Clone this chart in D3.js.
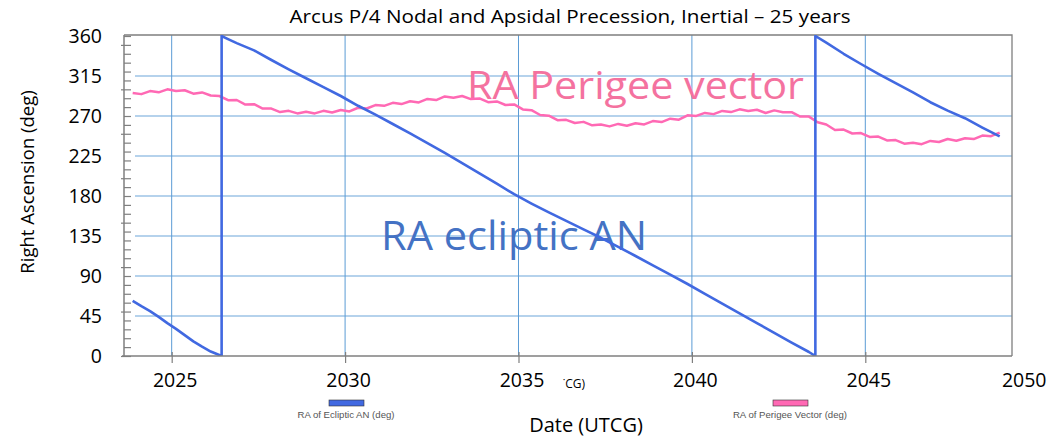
<!DOCTYPE html>
<html><head><meta charset="utf-8">
<script src="https://cdn.jsdelivr.net/npm/d3@7"></script>
<style>html,body{margin:0;padding:0;background:#fff;} svg{display:block;}</style>
</head><body><svg id="chart" width="1053" height="437"></svg>
<script>
// ---------- data ----------
const chartTitle = "Arcus P/4 Nodal and Apsidal Precession, Inertial \u2013 25 years";
const xAxisTitle = "Date (UTCG)";
const yAxisTitle = "Right Ascension (deg)";
const strayLabel = "\u02D9CG)";
const xTickYears = [2025, 2030, 2035, 2040, 2045, 2050];
const yTickLabels = [0, 45, 90, 135, 180, 225, 270, 315, 360];
const yMinorTicks = [0,10,20,30,40,50,60,70,80,90,100,110,120,130,140,150,160,170,180,190,200,210,220,230,240,250,260,270,280,290,300,310,320,330,340,350,360];
const seriesNames = ["RA of Ecliptic AN (deg)", "RA of Perigee Vector (deg)"];
const annotationTexts = ["RA Perigee vector", "RA ecliptic AN"];

// RA of perigee vector, sampled every quarter year from 2023.875
const perigeeStart = 2023.875, perigeeStep = 0.25;
const perigeeValues = [
 296.0,294.6,298.0,296.6,300.0,298.1,299.0,295.1,296.5,293.1,
 292.5,287.8,288.0,282.9,283.3,278.4,278.3,274.4,275.8,272.9,
 274.8,272.9,275.8,273.9,276.8,275.1,279.3,278.4,282.3,281.4,
 284.8,283.4,286.6,285.3,289.2,287.9,292.0,290.5,292.5,289.0,
 289.8,285.5,286.4,282.4,283.0,277.4,276.6,271.1,270.3,265.3,
 265.7,262.1,263.4,259.5,260.4,258.3,261.1,259.1,261.9,260.5,
 264.3,263.2,267.0,265.9,270.8,270.1,273.5,272.1,275.7,274.4,
 277.5,275.7,277.0,273.4,276.3,274.3,274.3,269.4,269.3,263.0,
 260.4,254.3,254.7,250.3,250.8,246.5,246.9,242.5,242.9,238.9,
 239.9,238.3,242.0,240.7,244.1,242.1,244.9,244.0,248.0,247.3,
 251.4];

// RA of ecliptic ascending node (wraps 0 -> 360)
const anYears = [
 2023.875,2024.125,2024.375,2024.625,2024.875,2025.125,2025.375,2025.625,2025.875,2026.125,2026.44,
 2026.44,2026.625,2026.875,2027.375,2027.875,2028.375,2028.875,2029.375,2029.875,2030.375,
 2030.875,2031.375,2031.875,2032.375,2032.875,2033.375,2033.875,2034.375,2034.875,2035.375,
 2035.875,2036.375,2036.875,2037.375,2037.875,2038.375,2038.875,2039.375,2039.875,2040.375,
 2040.875,2041.375,2041.875,2042.375,2042.875,2043.375,2043.56,
 2043.56,2043.875,2044.375,2044.875,2045.375,2045.875,2046.375,2046.875,2047.375,2047.875,
 2048.375,2048.875];
const anValues = [
 62,56,50.5,44,37,30.5,23.5,16.5,10.5,5,0,
 360,356.5,352,343.8,333,322.5,312.5,302.5,292.5,281.5,
 271.5,261,250.5,239.5,228.5,217,205.5,194,182,171.5,
 161.5,152,142.5,133,122.8,112.5,102,91.5,81,70,
 59,48,37,26,15,4.5,0,
 360,352.5,340,328.5,317.5,307,296.5,285.5,276,267.5,
 257,247];

// ---------- drawing ----------
const svg = d3.select("#chart");
const L = 124, R = 1012, T = 35, B = 356;
const x = d3.scaleLinear().domain([2023.625, 2049.23]).range([L, R]);
const y = d3.scaleLinear().domain([0, 360]).range([B, 36]);
const FONT = "'Open Sans', 'DejaVu Sans', sans-serif";

svg.append("rect").attr("width",1053).attr("height",437).attr("fill","#fff");

// gridlines
const grid = svg.append("g");
grid.selectAll("line.h").data(yTickLabels.filter(v => v > 0 && v < 360)).join("line")
  .attr("x1", 135).attr("x2", R).attr("y1", d => y(d)).attr("y2", d => y(d))
  .attr("stroke", "#9dc3e6").attr("stroke-width", 1.5);
grid.selectAll("line.v").data(xTickYears.filter(v => x(v) < R)).join("line")
  .attr("x1", d => x(d)).attr("x2", d => x(d)).attr("y1", T).attr("y2", B)
  .attr("stroke", "#5b9bd5").attr("stroke-width", 1);

// frame top/right
svg.append("path").attr("d", `M${L},${T}H${R}V${B}`).attr("fill","none")
  .attr("stroke","#7f7f7f").attr("stroke-width",1.3);

// annotations
svg.append("text").text(annotationTexts[0])
  .attr("x", 467).attr("y", 99).attr("font-family", FONT).attr("font-size", 39)
  .attr("textLength", 337).attr("lengthAdjust","spacingAndGlyphs").attr("fill", "#f4729f");
svg.append("text").text(annotationTexts[1])
  .attr("x", 381).attr("y", 250).attr("font-family", FONT).attr("font-size", 40)
  .attr("textLength", 266).attr("lengthAdjust","spacingAndGlyphs").attr("fill", "#4472c4");

// lines
svg.append("clipPath").attr("id","plotclip").append("rect")
  .attr("x", L).attr("y", T).attr("width", R - L).attr("height", B - T);
const line = d3.line().x(d => x(d[0])).y(d => y(d[1]));
const perigeeData = perigeeValues.map((v, i) => [perigeeStart + perigeeStep * i, v]);
const anData = anYears.map((t, i) => [t, anValues[i]]);
const lines = svg.append("g").attr("clip-path","url(#plotclip)");
lines.append("path").datum(perigeeData).attr("d", line).attr("fill","none")
  .attr("stroke","#ff69b4").attr("stroke-width",2.5).attr("stroke-linejoin","round");
lines.append("path").datum(anData).attr("d", line).attr("fill","none")
  .attr("stroke","#4169e1").attr("stroke-width",2.6).attr("stroke-linejoin","round");

// left axis: minor/major ticks
const yTicksAxis = svg.append("g").attr("transform", `translate(${L},0)`)
  .call(d3.axisLeft(y).tickValues(yMinorTicks).tickSize(-7).tickSizeOuter(0).tickFormat(""));
yTicksAxis.select(".domain").attr("stroke","#7f7f7f").attr("stroke-width",1.5)
  .attr("d", `M0,${B}V${T}`);
yTicksAxis.selectAll(".tick line").attr("stroke","#7f7f7f").attr("stroke-width",1.2)
  .attr("x1", d => d % 50 === 0 ? -3 : 0);
// left axis labels
const yLab = svg.append("g").attr("transform", `translate(${L},0)`)
  .call(d3.axisLeft(y).tickValues(yTickLabels).tickSize(0).tickPadding(22));
yLab.select(".domain").remove();
yLab.selectAll("text").attr("font-family", FONT).attr("font-size", 19.5).attr("fill","#000");

// bottom axis
const xAx = svg.append("g").attr("transform", `translate(0,${B})`)
  .call(d3.axisBottom(x).tickValues(xTickYears).tickSize(7).tickSizeOuter(0)
    .tickPadding(10).tickFormat(d3.format("d")));
xAx.select(".domain").attr("stroke","#7f7f7f").attr("stroke-width",1.5)
  .attr("d", `M${L - 2},0H${R}`);
xAx.selectAll(".tick line").attr("stroke","#7f7f7f").attr("stroke-width",1.2)
  .attr("y1", -4).attr("opacity", d => x(d) > R ? 0 : 1);
xAx.selectAll("text").attr("font-family", FONT).attr("font-size", 19.5).attr("fill","#000")
  .attr("dx", d => d === 2050 ? -15 : 3);

// titles
svg.append("text").text(chartTitle).attr("x", 570).attr("y", 22.5)
  .attr("text-anchor","middle").attr("font-family", FONT).attr("font-size", 18)
  .attr("textLength", 561).attr("lengthAdjust","spacingAndGlyphs").attr("fill","#000");
svg.append("text").text(yAxisTitle)
  .attr("transform","translate(34,182) rotate(-90)").attr("text-anchor","middle")
  .attr("font-family", FONT).attr("font-size", 18.5).attr("fill","#000");
svg.append("text").text(xAxisTitle).attr("x", 586).attr("y", 432)
  .attr("text-anchor","middle").attr("font-family", FONT).attr("font-size", 20).attr("fill","#000");
svg.append("text").text(strayLabel).attr("x", 563).attr("y", 388)
  .attr("font-family", FONT).attr("font-size", 12).attr("fill","#000");

// legend
const legendItems = [
  {name: seriesNames[0], color: "#4169e1", cx: 346},
  {name: seriesNames[1], color: "#ff69b4", cx: 790}
];
const lg = svg.append("g").selectAll("g").data(legendItems).join("g");
lg.append("rect").attr("x", d => d.cx - 17).attr("y", 400).attr("width", 35).attr("height", 6)
  .attr("fill", d => d.color).attr("stroke","#333").attr("stroke-width",0.6);
lg.append("text").text(d => d.name).attr("x", d => d.cx).attr("y", 418)
  .attr("text-anchor","middle").attr("font-family","'Liberation Sans', Arial, sans-serif")
  .attr("font-size", 9.6).attr("fill","#555");
</script>
</body></html>
